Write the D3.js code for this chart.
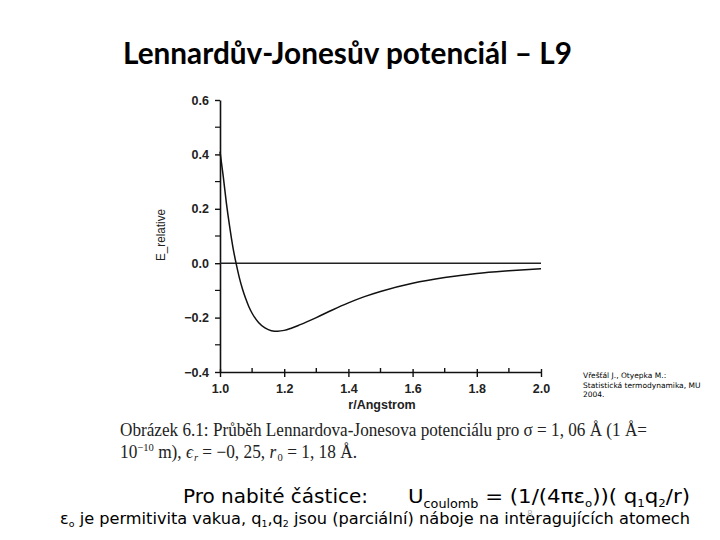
<!DOCTYPE html>
<html>
<head>
<meta charset="utf-8">
<script src="https://cdn.jsdelivr.net/npm/d3@7"></script>
<style>
  body { margin: 0; background: #fff; }
  svg { display: block; }
</style>
</head>
<body>
<svg id="chart" width="720" height="540"></svg>
<script>
// values (r in Angstrom, E relative)
var rValues = [1.00, 1.01, 1.02, 1.03, 1.04, 1.05, 1.06, 1.07, 1.08, 1.09, 1.10,
  1.12, 1.14, 1.16, 1.18, 1.20, 1.22, 1.25, 1.30, 1.35, 1.40, 1.45, 1.50,
  1.60, 1.70, 1.80, 1.90, 2.00];
var eValues = [0.41, 0.32, 0.22, 0.135, 0.06, 0.0, -0.052, -0.095, -0.13, -0.16, -0.184,
  -0.218, -0.238, -0.248, -0.25, -0.247, -0.24, -0.226, -0.2, -0.172, -0.146, -0.123, -0.104,
  -0.074, -0.053, -0.038, -0.028, -0.02];
var xTicks = [1.0, 1.2, 1.4, 1.6, 1.8, 2.0];
var yTicks = [-0.4, -0.2, 0.0, 0.2, 0.4, 0.6];

var svg = d3.select("#chart");

// dimensions
var margin = { left: 220, top: 100 };
var width = 321, height = 272;

var xScale = d3.scaleLinear().domain([1.0, 2.0]).range([0, width]);
var yScale = d3.scaleLinear().domain([-0.4, 0.6]).range([height, 0]);

// title
svg.append("text")
  .attr("x", 123).attr("y", 64)
  .attr("textLength", 449).attr("lengthAdjust", "spacingAndGlyphs")
  .style("font-family", "Lato, 'Open Sans', sans-serif")
  .style("font-weight", "bold")
  .style("font-size", "30px")
  .text("Lennardův-Jonesův potenciál – L9");

var g = svg.append("g")
  .attr("transform", "translate(" + margin.left + "," + margin.top + ")");

// minor ticks
var minorX = d3.range(1.1, 2.0, 0.2);
var minorY = d3.range(-0.3, 0.6, 0.2);

var xAxis = d3.axisBottom(xScale).tickValues(xTicks).tickFormat(d3.format(".1f"))
  .tickSizeInner(5).tickSizeOuter(0);
var yAxis = d3.axisLeft(yScale).tickValues(yTicks).tickFormat(d3.format(".1f"))
  .tickSizeInner(5).tickSizeOuter(0);

var gX = g.append("g")
  .attr("transform", "translate(0," + height + ")")
  .call(xAxis);
var gY = g.append("g").call(yAxis);

[gX, gY].forEach(function (ax) {
  ax.select(".domain").attr("stroke", "#111").attr("stroke-width", 1.6);
  ax.selectAll(".tick line").attr("stroke", "#111").attr("stroke-width", 1.4);
  ax.selectAll(".tick text")
    .style("font-family", "'Liberation Sans', Arial, sans-serif")
    .style("font-weight", "bold")
    .style("font-size", "12.5px")
    .attr("fill", "#222");
});
gX.selectAll(".tick line").attr("y1", -3);
gX.selectAll(".tick text").attr("dy", "1.05em");
gY.selectAll(".tick text").attr("x", -11);

g.selectAll(".minorx").data(minorX).enter().append("line")
  .attr("x1", function (d) { return xScale(d); })
  .attr("x2", function (d) { return xScale(d); })
  .attr("y1", height).attr("y2", height - 4)
  .attr("stroke", "#111").attr("stroke-width", 1.4);
g.selectAll(".minory").data(minorY).enter().append("line")
  .attr("x1", -5).attr("x2", 0)
  .attr("y1", function (d) { return yScale(d); })
  .attr("y2", function (d) { return yScale(d); })
  .attr("stroke", "#111").attr("stroke-width", 1.2);

// zero line
g.append("line")
  .attr("x1", xScale(1.0)).attr("x2", xScale(2.0))
  .attr("y1", yScale(0)).attr("y2", yScale(0))
  .attr("stroke", "#222").attr("stroke-width", 1.4);

// potential curve
var points = rValues.map(function (r, i) { return [r, eValues[i]]; });
var line = d3.line()
  .x(function (d) { return xScale(d[0]); })
  .y(function (d) { return yScale(d[1]); })
  .curve(d3.curveMonotoneX);
g.append("path")
  .datum(points)
  .attr("d", line)
  .attr("fill", "none")
  .attr("stroke", "#111")
  .attr("stroke-width", 1.5);

// axis titles
svg.append("text")
  .attr("x", 382).attr("y", 409)
  .attr("text-anchor", "middle")
  .style("font-family", "'Liberation Sans', Arial, sans-serif")
  .style("font-weight", "bold")
  .style("font-size", "12.5px")
  .attr("fill", "#222")
  .text("r/Angstrom");
svg.append("text")
  .attr("transform", "translate(165,235) rotate(-90)")
  .attr("text-anchor", "middle")
  .attr("textLength", 52).attr("lengthAdjust", "spacingAndGlyphs")
  .style("font-family", "'Liberation Sans', Arial, sans-serif")
  .style("font-size", "12px")
  .attr("fill", "#222")
  .text("E_relative");

// citation
var cite = ["Vřešťál J., Otyepka M.:", "Statistická termodynamika, MU", "2004."];
svg.selectAll(".cite").data(cite).enter().append("text")
  .attr("x", 583)
  .attr("y", function (d, i) { return 378 + i * 9.5; })
  .style("font-family", "'DejaVu Sans', sans-serif")
  .style("font-size", "7.5px")
  .text(function (d) { return d; });

// caption (serif)
var cap = svg.append("g")
  .style("font-family", "'Liberation Serif', 'DejaVu Serif', serif")
  .style("font-size", "18px")
  .attr("fill", "#222");
cap.append("text").attr("x", 120).attr("y", 436)
  .attr("textLength", 527).attr("lengthAdjust", "spacingAndGlyphs")
  .text("Obrázek 6.1: Průběh Lennardova-Jonesova potenciálu pro σ = 1, 06 Å (1 Å=");
var c2 = cap.append("text").attr("x", 120).attr("y", 458)
  .attr("textLength", 237).attr("lengthAdjust", "spacingAndGlyphs");
c2.append("tspan").text("10");
c2.append("tspan").attr("dy", -7).style("font-size", "11px").text("−10");
c2.append("tspan").attr("dy", 7).text(" m), ");
c2.append("tspan").style("font-style", "italic").text("ϵ");
c2.append("tspan").attr("dy", 3).attr("dx", 1).style("font-size", "11px").style("font-style", "italic").text("r");
c2.append("tspan").attr("dy", -3).text(" = −0, 25, ");
c2.append("tspan").style("font-style", "italic").text("r");
c2.append("tspan").attr("dy", 3).attr("dx", 1.5).style("font-size", "11px").text("0");
c2.append("tspan").attr("dy", -3).text(" = 1, 18 Å.");

// Coulomb line
var sans = "'DejaVu Sans', Verdana, sans-serif";
svg.append("text").attr("x", 183).attr("y", 503)
  .attr("textLength", 185).attr("lengthAdjust", "spacingAndGlyphs")
  .style("font-family", sans).style("font-size", "20px")
  .text("Pro nabité částice:");
var u = svg.append("text").attr("x", 408).attr("y", 503)
  .attr("textLength", 282).attr("lengthAdjust", "spacingAndGlyphs")
  .style("font-family", sans).style("font-size", "20px");
u.append("tspan").text("U");
u.append("tspan").attr("dy", 5).style("font-size", "12px").text("coulomb");
u.append("tspan").attr("dy", -5).text(" = (1/(4πε");
u.append("tspan").attr("dy", 4).style("font-size", "11px").text("o");
u.append("tspan").attr("dy", -4).text("))( q");
u.append("tspan").attr("dy", 4).style("font-size", "11px").text("1");
u.append("tspan").attr("dy", -4).text("q");
u.append("tspan").attr("dy", 4).style("font-size", "11px").text("2");
u.append("tspan").attr("dy", -4).text("/r)");

var e = svg.append("text").attr("x", 60).attr("y", 524)
  .attr("textLength", 630).attr("lengthAdjust", "spacingAndGlyphs")
  .style("font-family", sans).style("font-size", "15.5px");
e.append("tspan").text("ε");
e.append("tspan").attr("dy", 3).style("font-size", "9px").text("o");
e.append("tspan").attr("dy", -3).text(" je permitivita vakua, q");
e.append("tspan").attr("dy", 3).style("font-size", "9px").text("1");
e.append("tspan").attr("dy", -3).text(",q");
e.append("tspan").attr("dy", 3).style("font-size", "9px").text("2");
e.append("tspan").attr("dy", -3).text(" jsou (parciální) náboje na interagujících atomech");

// slide number (faint, sits over the text as in the original)
svg.append("text").attr("x", 527).attr("y", 517)
  .style("font-family", sans).style("font-size", "9px").attr("fill", "#aaa")
  .text("8");
</script>
</body>
</html>
